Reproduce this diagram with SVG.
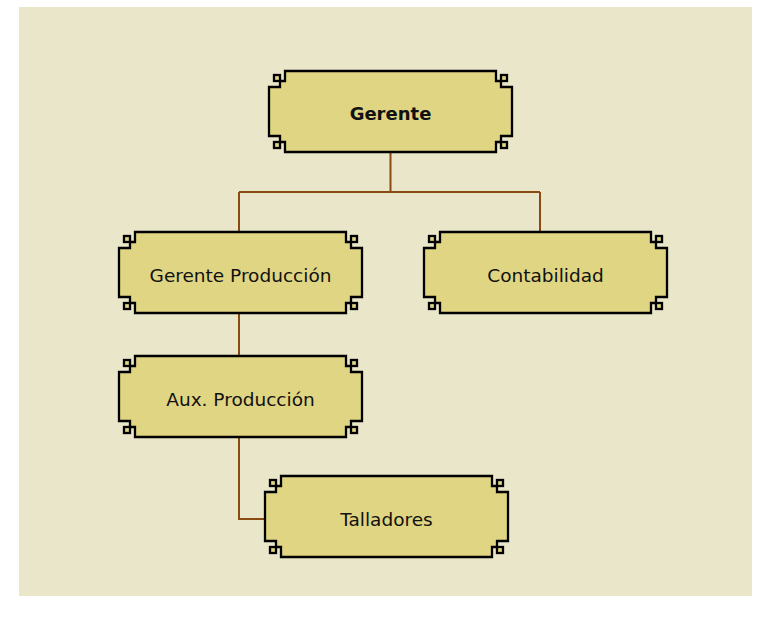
<svg xmlns="http://www.w3.org/2000/svg" xmlns:xlink="http://www.w3.org/1999/xlink" width="772" height="624" viewBox="0 0 772 624">
<style>
  .frame { fill: #e0d582; stroke: #000; stroke-width: 2.3; stroke-linejoin: miter; }
  .lbl { font-family: "DejaVu Sans", Verdana, sans-serif; font-size: 18.5px; fill: #111; text-anchor: middle; }
  .bold { font-weight: bold; font-size: 18px; }
  .conn { fill: none; stroke: #8a4a14; stroke-width: 2; }
</style>
<defs>
  <g id="box">
    <path class="frame" d="M16,0 H227 V10 H232 V16 H243 V65 H232 V71 H227 V81 H16 V71 H11 V65 H0 V16 H11 V10 H16 Z"/>
    <rect class="frame" x="5" y="4" width="6" height="6"/>
    <rect class="frame" x="232" y="4" width="6" height="6"/>
    <rect class="frame" x="5" y="71" width="6" height="6"/>
    <rect class="frame" x="232" y="71" width="6" height="6"/>
  </g>
</defs>
<rect x="19" y="7" width="733" height="589" fill="#eae6c9"/>
<g id="connectors">
  <path class="conn" d="M390.5,152 V192 M239,192 H540 M239,192 V232 M540,192 V232"/>
  <path class="conn" d="M239,314 V356"/>
  <path class="conn" d="M239,437 V519 H265"/>
</g>
<g id="gerente">
  <use xlink:href="#box" x="269" y="71"/>
  <text class="lbl bold" x="390.5" y="120">Gerente</text>
</g>
<g id="gerente-produccion">
  <use xlink:href="#box" x="119" y="232"/>
  <text class="lbl" x="240.5" y="282">Gerente Producción</text>
</g>
<g id="contabilidad">
  <use xlink:href="#box" x="424" y="232"/>
  <text class="lbl" x="545.5" y="282">Contabilidad</text>
</g>
<g id="aux-produccion">
  <use xlink:href="#box" x="119" y="356"/>
  <text class="lbl" x="240.5" y="405.5">Aux. Producción</text>
</g>
<g id="talladores">
  <use xlink:href="#box" x="265" y="476"/>
  <text class="lbl" x="386.5" y="525.5">Talladores</text>
</g>
</svg>
